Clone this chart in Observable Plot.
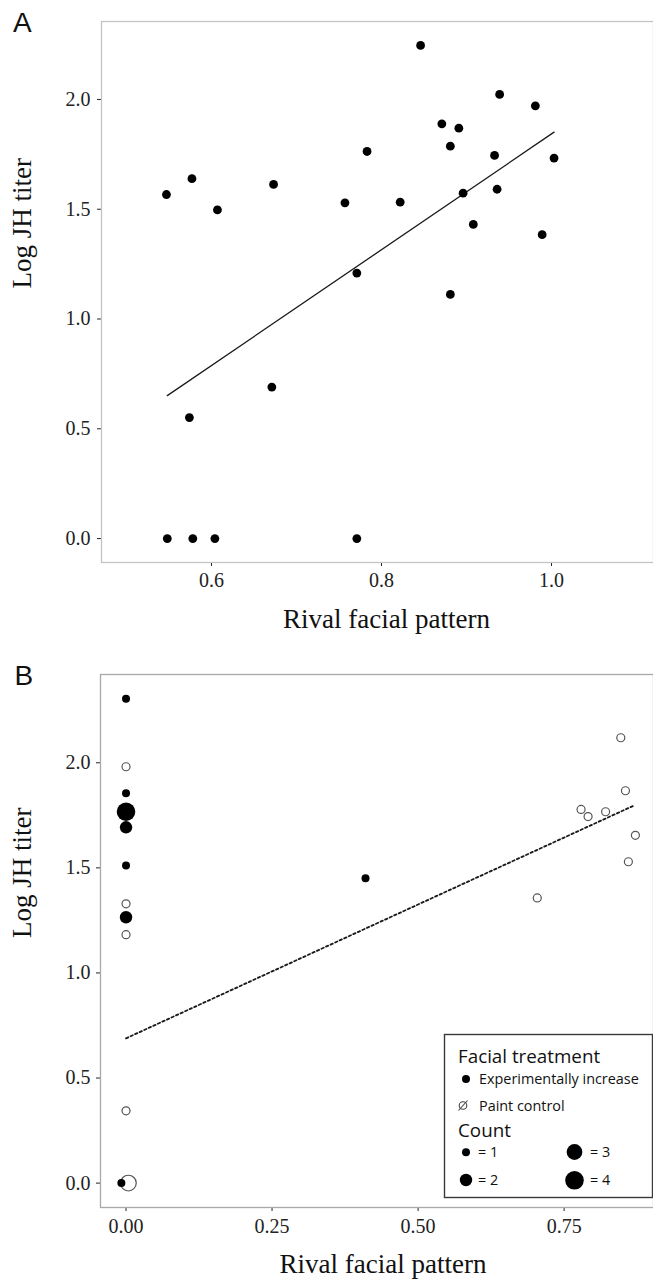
<!DOCTYPE html>
<html>
<head>
<meta charset="utf-8">
<script src="https://cdn.jsdelivr.net/npm/d3@7"></script>
<script src="https://cdn.jsdelivr.net/npm/@observablehq/plot@0.6"></script>
<style>
  html, body { margin: 0; padding: 0; background: white; }
  #wrap { position: relative; width: 653px; height: 1287px; overflow: hidden; }
  #wrap svg { display: block; }
  #overlay { position: absolute; left: 0; top: 0; pointer-events: none; }
</style>
</head>
<body>
<div id="wrap"></div>
<script>
// ---------- Panel A data ----------
const aX = [0.547, 0.577, 0.607, 0.846, 0.939, 0.981, 0.871, 0.891, 0.783, 0.881, 0.933, 1.003, 0.757, 0.822,
            0.896, 0.936, 0.908, 0.989, 0.771, 0.881, 0.574, 0.671, 0.673, 0.548, 0.578, 0.604, 0.771];
const aY = [1.567, 1.639, 1.497, 2.246, 2.023, 1.971, 1.889, 1.869, 1.763, 1.787, 1.745, 1.733, 1.529, 1.532,
            1.573, 1.591, 1.431, 1.384, 1.209, 1.112, 0.551, 0.690, 1.613, 0, 0, 0, 0];
const fitAX = [0.548, 1.003];
const fitAY = [0.651, 1.851];
const aXTicks = [0.6, 0.8, 1.0];
const yTicks = [0, 0.5, 1.0, 1.5, 2.0];

// ---------- Panel B data ----------
const incX = [0, 0, 0, 0, 0, 0, 0.41, -0.008];
const incY = [2.305, 1.855, 1.767, 1.693, 1.511, 1.265, 1.45, 0];
const incN = [1, 1, 4, 2, 1, 2, 1, 1];
const ctlX = [0, 0, 0, 0, 0.004, 0.847, 0.855, 0.779, 0.791, 0.821, 0.872, 0.860, 0.704];
const ctlY = [1.981, 1.329, 1.182, 0.344, 0, 2.119, 1.867, 1.778, 1.744, 1.767, 1.655, 1.529, 1.357];
const ctlN = [1, 1, 1, 1, 3, 1, 1, 1, 1, 1, 1, 1, 1];
const fitBX = [0, 0.870];
const fitBY = [0.689, 1.797];
const bXTicks = [0, 0.25, 0.5, 0.75];

const legendTreatments = ["Experimentally increase", "Paint control"];
const legendCounts = [1, 2, 3, 4];

const xLabel = "Rival facial pattern";
const yLabel = "Log JH titer";

const zip = (xs, ys, ns) => xs.map((x, i) => ({x, y: ys[i], n: ns ? ns[i] : 1}));
const dataA = zip(aX, aY);
const fitA = zip(fitAX, fitAY);
const inc = zip(incX, incY, incN);
const ctl = zip(ctlX, ctlY, ctlN);
const fitB = zip(fitBX, fitBY);

const serif = "'Liberation Serif', 'Times New Roman', serif";
const baseStyle = {fontFamily: serif, fontSize: "20px", color: "#222", background: "white", overflow: "visible"};

const rDomain = [1, 4], rRange = [4, 9.3];
const rScale = d3.scaleSqrt().domain(rDomain).range(rRange);

const plotA = Plot.plot({
  width: 653, height: 640,
  marginLeft: 101, marginRight: 0, marginTop: 21, marginBottom: 78,
  style: baseStyle,
  x: {domain: [0.4706, 1.12], ticks: aXTicks, tickFormat: ".1f", tickSize: 4, tickPadding: 6, label: null},
  y: {domain: [-0.109, 2.355], ticks: yTicks, tickFormat: ".1f", tickSize: 4, tickPadding: 7, label: null},
  marks: [
    Plot.frame({stroke: "#c4c4c4", strokeWidth: 1.3}),
    Plot.line(fitA, {x: "x", y: "y", stroke: "#1a1a1a", strokeWidth: 1.3}),
    Plot.dot(dataA, {x: "x", y: "y", r: 4.4, fill: "black"}),
    Plot.text([yLabel], {text: d => d, frameAnchor: "left", rotate: -90, dx: -79.6, dy: -3.5, fontSize: 27, fill: "#111"}),
    Plot.text([xLabel], {text: d => d, frameAnchor: "bottom", dx: 9, dy: 65.4, fontSize: 27, fill: "#111"})
  ]
});

const plotB = Plot.plot({
  width: 653, height: 647,
  marginLeft: 100, marginRight: 0, marginTop: 34, marginBottom: 80,
  style: baseStyle,
  x: {domain: [-0.0437, 0.903], ticks: bXTicks, tickFormat: ".2f", tickSize: 4, tickPadding: 7, label: null},
  y: {domain: [-0.116, 2.420], ticks: yTicks, tickFormat: ".1f", tickSize: 4, tickPadding: 6, label: null},
  r: {type: "sqrt", domain: rDomain, range: rRange},
  marks: [
    Plot.frame({stroke: "#a8a8a8", strokeWidth: 1.3}),
    Plot.line(fitB, {x: "x", y: "y", stroke: "#1a1a1a", strokeWidth: 1.8, strokeDasharray: "2.4,2.6"}),
    Plot.dot(ctl, {x: "x", y: "y", r: "n", fill: "white", stroke: "#555", strokeWidth: 1.2}),
    Plot.dot(inc, {x: "x", y: "y", r: "n", fill: "black"}),
    Plot.text([yLabel], {text: d => d, frameAnchor: "left", rotate: -90, dx: -78.6, dy: -3, fontSize: 27, fill: "#111"}),
    Plot.text([xLabel], {text: d => d, frameAnchor: "bottom", dx: 6, dy: 65.3, fontSize: 27, fill: "#111"})
  ]
});

const wrap = document.getElementById("wrap");
wrap.appendChild(plotA);
wrap.appendChild(plotB);

// ---------- Overlay: panel letters and legend ----------
const ov = d3.select(wrap).append("svg")
  .attr("id", "overlay").attr("width", 653).attr("height", 1287);

const letters = [{t: "A", x: 13, y: 32}, {t: "B", x: 14.5, y: 685}];
ov.selectAll("text.letter").data(letters).join("text")
  .attr("class", "letter")
  .attr("x", d => d.x).attr("y", d => d.y)
  .attr("font-family", "'Liberation Sans', Arial, sans-serif")
  .attr("font-size", 28).attr("fill", "#111")
  .text(d => d.t);

const sans = "'Open Sans', 'Noto Sans', sans-serif";
const lg = ov.append("g");
lg.append("rect").attr("x", 444.5).attr("y", 1034.5).attr("width", 208).attr("height", 163)
  .attr("fill", "white").attr("stroke", "#3a3a3a").attr("stroke-width", 1.4);
lg.append("text").attr("x", 458).attr("y", 1062.7).attr("font-family", sans).attr("font-size", 18.8)
  .attr("fill", "#111").text("Facial treatment");
// treatment keys
lg.append("circle").attr("cx", 466).attr("cy", 1079).attr("r", 4).attr("fill", "black");
lg.append("text").attr("x", 479).attr("y", 1084).attr("font-family", sans).attr("font-size", 14.4)
  .attr("fill", "#111").text(legendTreatments[0]);
lg.append("circle").attr("cx", 463).attr("cy", 1105.5).attr("r", 3.8).attr("fill", "none")
  .attr("stroke", "#444").attr("stroke-width", 1.1);
lg.append("line").attr("x1", 458.5).attr("y1", 1110.5).attr("x2", 467.5).attr("y2", 1100.5)
  .attr("stroke", "#444").attr("stroke-width", 1.1);
lg.append("text").attr("x", 479).attr("y", 1110.7).attr("font-family", sans).attr("font-size", 14.4)
  .attr("fill", "#111").text(legendTreatments[1]);
lg.append("text").attr("x", 458).attr("y", 1137.3).attr("font-family", sans).attr("font-size", 18.8)
  .attr("fill", "#111").text("Count");
// count keys: column-major 2x2 (1,2 left; 3,4 right)
const keyPos = [{cx: 466, cy: 1152.3, tx: 478}, {cx: 466, cy: 1180, tx: 478},
                {cx: 574.5, cy: 1152, tx: 590}, {cx: 574.5, cy: 1180.3, tx: 590}];
legendCounts.forEach((c, i) => {
  const p = keyPos[i];
  lg.append("circle").attr("cx", p.cx).attr("cy", p.cy).attr("r", rScale(c)).attr("fill", "black");
  lg.append("text").attr("x", p.tx).attr("y", p.cy + 5).attr("font-family", sans).attr("font-size", 14.4)
    .attr("fill", "#111").text("= " + c);
});
</script>
</body>
</html>
